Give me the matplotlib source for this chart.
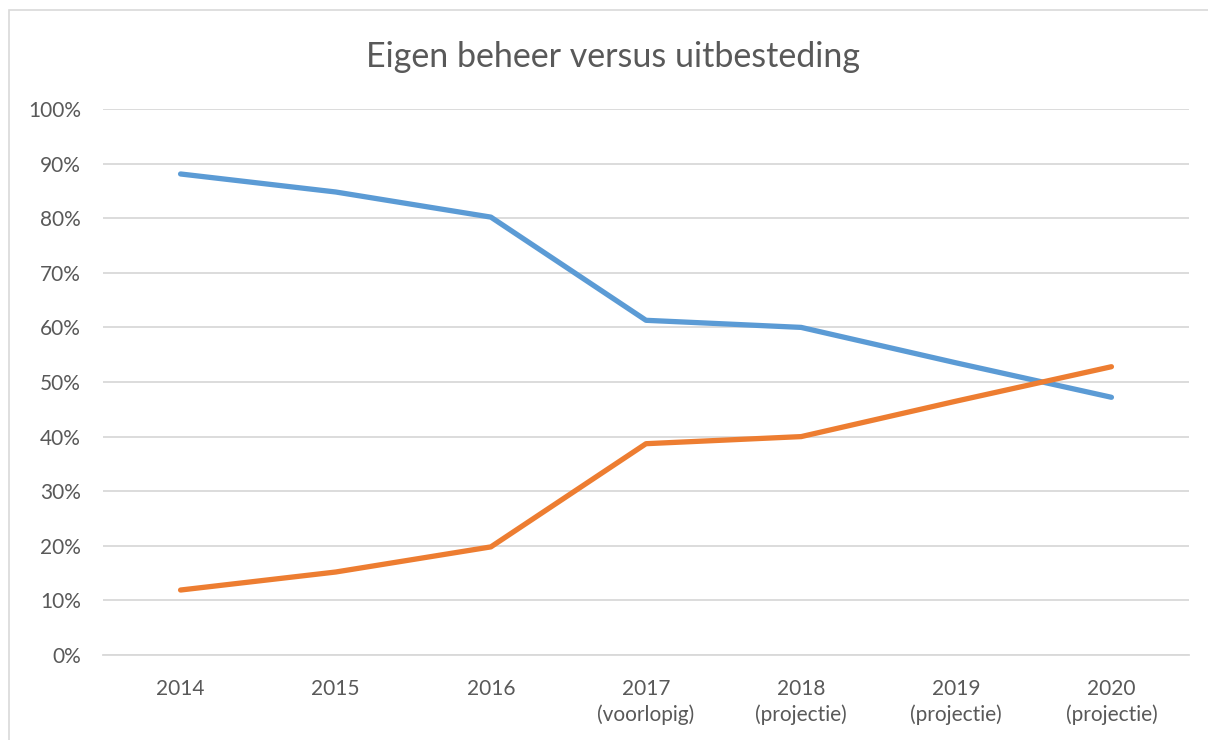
import matplotlib
matplotlib.use("Agg")
from matplotlib import pyplot as plt
from matplotlib.patches import Rectangle
from matplotlib.ticker import PercentFormatter

years = ['2014', '2015', '2016', '2017\n(voorlopig)', '2018\n(projectie)',
         '2019\n(projectie)', '2020\n(projectie)']
eigen_beheer = [88.1, 84.8, 80.2, 61.3, 60.0, 53.5, 47.2]
uitbesteding = [11.9, 15.2, 19.8, 38.7, 40.0, 46.5, 52.8]

plt.rcParams['font.family'] = ['Lato', 'DejaVu Sans']
text_color = '#595959'

fig = plt.figure(figsize=(12.08, 7.40), dpi=100)
fig.patches.append(Rectangle((9 / 1208, -0.1), 1.2, 1.1 - 10 / 740, transform=fig.transFigure,
                             fill=False, edgecolor='#D9D9D9', linewidth=1.2))
ax = fig.add_axes([103 / 1208, 1 - 655 / 740, (1189 - 103) / 1208, (655 - 109) / 740])

x = range(len(years))
ax.plot(x, eigen_beheer, color='#5B9BD5', linewidth=3.8, solid_capstyle='round')
ax.plot(x, uitbesteding, color='#ED7D31', linewidth=3.8, solid_capstyle='round')

ax.set_xlim(-0.5, len(years) - 0.5)
ax.set_ylim(0, 100)
ax.set_yticks(range(0, 101, 10))
ax.yaxis.set_major_formatter(PercentFormatter(decimals=0))
ax.set_xticks(list(x))
ax.set_xticklabels(years, linespacing=1.35)
ax.tick_params(length=0, labelsize=15, colors=text_color)
ax.tick_params(axis='y', pad=16)
ax.tick_params(axis='x', pad=17)
ax.grid(axis='y', color='#D9D9D9', linewidth=1.3)
ax.set_axisbelow(True)
for s in ['top', 'right', 'left']:
    ax.spines[s].set_visible(False)
ax.spines['bottom'].set_color('#D9D9D9')
ax.spines['bottom'].set_linewidth(1.3)

fig.text(613 / 1208, 1 - 57 / 740, 'Eigen beheer versus uitbesteding', ha='center', va='center',
         fontsize=24.5, color=text_color)

plt.savefig('out.png', dpi=100)
